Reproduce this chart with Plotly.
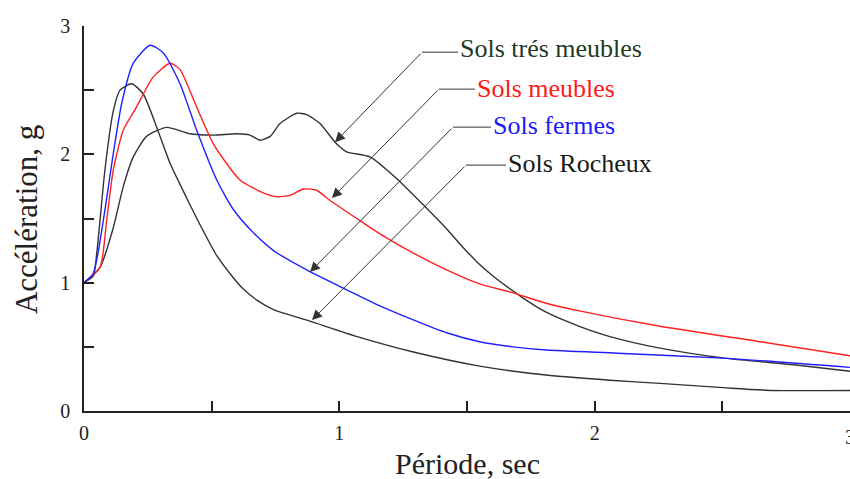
import plotly.graph_objects as go

# Response spectra by soil class (period in s, acceleration in g)
rocheux_x = [0, 0.036, 0.05, 0.082, 0.115, 0.141, 0.187, 0.232, 0.285, 0.337, 0.402, 0.46, 0.52,
             0.58, 0.624, 0.68, 0.742, 0.885, 1.07, 1.29, 1.55, 1.81, 2.06, 2.256, 2.517, 2.70, 3.0]
rocheux_y = [1.0, 1.05, 1.23, 1.88, 2.34, 2.50, 2.55, 2.47, 2.21, 1.93, 1.66, 1.43, 1.21,
             1.05, 0.95, 0.86, 0.79, 0.70, 0.58, 0.46, 0.35, 0.28, 0.24, 0.215, 0.18, 0.16, 0.16]

fermes_x = [0, 0.036, 0.076, 0.115, 0.148, 0.193, 0.259, 0.311, 0.376, 0.441, 0.52, 0.585, 0.663,
            0.742, 0.872, 1.003, 1.159, 1.29, 1.42, 1.55, 1.68, 1.81, 2.09, 2.52, 3.0]
fermes_y = [1.0, 1.07, 1.49, 2.01, 2.40, 2.71, 2.85, 2.79, 2.55, 2.19, 1.80, 1.57, 1.39,
            1.25, 1.10, 0.97, 0.82, 0.71, 0.61, 0.54, 0.50, 0.475, 0.45, 0.41, 0.34]

meubles_x = [0, 0.063, 0.089, 0.115, 0.154, 0.206, 0.27, 0.337, 0.376, 0.441, 0.507, 0.611,
             0.702, 0.755, 0.807, 0.859, 0.911, 0.964, 1.068, 1.159, 1.29, 1.42, 1.55, 1.68, 1.81,
             1.94, 2.256, 2.648, 3.0]
meubles_y = [1.0, 1.12, 1.49, 1.88, 2.19, 2.37, 2.60, 2.71, 2.66, 2.37, 2.08, 1.80,
             1.70, 1.67, 1.68, 1.73, 1.72, 1.64, 1.50, 1.38, 1.23, 1.10, 0.99, 0.92, 0.84,
             0.78, 0.66, 0.54, 0.43]

tres_x = [0, 0.063, 0.115, 0.154, 0.193, 0.245, 0.324, 0.415, 0.507, 0.598, 0.65, 0.689, 0.729,
          0.768, 0.833, 0.872, 0.924, 0.99, 1.029, 1.12, 1.225, 1.342, 1.42, 1.473, 1.54, 1.603,
          1.72, 1.81, 1.94, 2.06, 2.256, 2.517, 2.78, 3.0]
tres_y = [1.0, 1.12, 1.43, 1.75, 1.98, 2.14, 2.21, 2.16, 2.15, 2.16, 2.15, 2.11, 2.14,
          2.24, 2.32, 2.31, 2.24, 2.08, 2.02, 1.98, 1.81, 1.58, 1.42, 1.30, 1.16, 1.05,
          0.88, 0.77, 0.66, 0.58, 0.49, 0.41, 0.36, 0.31]

x_ticks = [0, 0.5, 1, 1.5, 2, 2.5, 3]
x_ticktext = ["0", "", "1", "", "2", "", "3"]
y_ticks = [0, 0.5, 1, 1.5, 2, 2.5, 3]
y_ticktext = ["0", "", "1", "", "2", "", "3"]

# Callouts: label, colour, text anchor, elbow, arrow tip
labels = ["Sols trés meubles", "Sols meubles", "Sols fermes", "Sols Rocheux"]
label_colors = ["#1f3a1f", "#ff1a1a", "#1a1aff", "#1a1a1a"]
label_x = [1.465, 1.531, 1.594, 1.653]
label_y = [2.827, 2.516, 2.227, 1.931]
elbow_x = [1.324, 1.390, 1.445, 1.496]
elbow_y = [2.796, 2.508, 2.212, 1.916]
tip_x = [0.983, 0.971, 0.885, 0.893]
tip_y = [2.095, 1.659, 1.083, 0.709]

SERIF = "Liberation Serif"
LINE_DARK = "#333333"
TEXT_DARK = "#222222"

fig = go.Figure()
series = [
    (tres_x, tres_y, LINE_DARK),
    (rocheux_x, rocheux_y, LINE_DARK),
    (meubles_x, meubles_y, "#ff2020"),
    (fermes_x, fermes_y, "#2020ff"),
]
for xs, ys, c in series:
    fig.add_trace(go.Scatter(x=xs, y=ys, mode="lines",
                             line=dict(color=c, width=1.4, shape="spline", smoothing=0.6),
                             showlegend=False, hoverinfo="skip"))

annotations = []
shapes = []
for i, lab in enumerate(labels):
    annotations.append(dict(x=label_x[i], y=label_y[i], xref="x", yref="y", text=lab,
                            showarrow=False, xanchor="left", yanchor="middle",
                            font=dict(family=SERIF, size=26, color=label_colors[i])))
    shapes.append(dict(type="line", xref="x", yref="y", x0=elbow_x[i], y0=elbow_y[i],
                       x1=label_x[i], y1=elbow_y[i], line=dict(color=LINE_DARK, width=1)))
    annotations.append(dict(x=tip_x[i], y=tip_y[i], xref="x", yref="y",
                            ax=elbow_x[i], ay=elbow_y[i], axref="x", ayref="y",
                            text="", showarrow=True, arrowhead=2, arrowsize=2.0,
                            arrowwidth=1, arrowcolor=LINE_DARK))

# Last x tick label sits on the page edge and is cut by it
annotations.append(dict(x=x_ticks[-1], y=0, xref="x", yref="y", text=x_ticktext[-1],
                        showarrow=False, xanchor="center", yanchor="top", yshift=-13,
                        font=dict(family=SERIF, size=20, color=TEXT_DARK)))

# Axis titles
annotations.append(dict(x=0.5, y=-0.088, xref="paper", yref="paper", text="Période, sec",
                        showarrow=False, xanchor="center", yanchor="top",
                        font=dict(family=SERIF, size=30, color=TEXT_DARK)))
annotations.append(dict(x=-0.0757, y=0.496, xref="paper", yref="paper", text="Accélération, g",
                        showarrow=False, xanchor="center", yanchor="middle", textangle=-90,
                        font=dict(family=SERIF, size=31, color=TEXT_DARK)))

axis_common = dict(showline=True, linecolor=TEXT_DARK, linewidth=1.5, ticks="inside",
                   ticklen=10, tickwidth=1.5, tickcolor=TEXT_DARK, showgrid=False,
                   zeroline=False, tickfont=dict(family=SERIF, size=20, color=TEXT_DARK))

fig.update_layout(
    width=850, height=479, autosize=False,
    margin=dict(l=84, r=0, t=26, b=68),
    paper_bgcolor="white", plot_bgcolor="white",
    xaxis=dict(range=[0, 3], tickvals=x_ticks, ticktext=x_ticktext, ticklabelstandoff=3,
               **axis_common),
    yaxis=dict(range=[0, 3], tickvals=y_ticks, ticktext=y_ticktext, ticklabelstandoff=8,
               **axis_common),
    annotations=annotations, shapes=shapes,
)

fig.write_html("out.html")
